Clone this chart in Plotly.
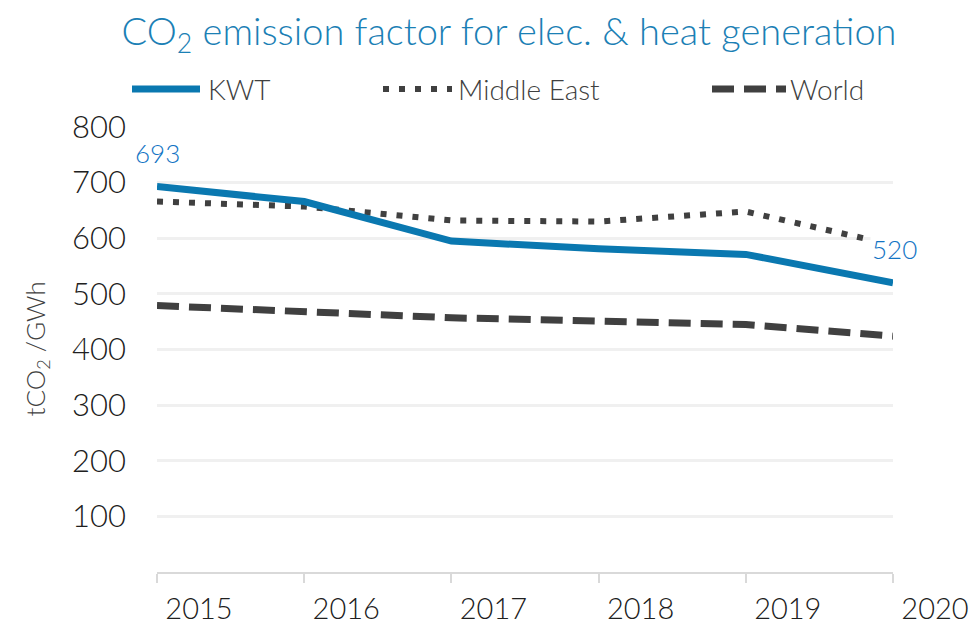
import plotly.graph_objects as go

years = [2015, 2016, 2017, 2018, 2019, 2020]
year_labels = ["2015", "2016", "2017", "2018", "2019", "2020"]
kwt = [693, 666, 595, 581, 571, 520]
middle_east = [666, 657, 632, 630, 648, 588]
world = [479, 467, 457, 451, 445, 424]
y_ticks = [100, 200, 300, 400, 500, 600, 700, 800]

FONT = "Lato"
WT = 300
BLUE = "#0a78b0"
LABEL_BLUE = "#1274c4"
DARK = "#404040"

fig = go.Figure()
fig.add_trace(go.Scatter(x=years, y=world, mode="lines", name="World",
                         line=dict(color=DARK, width=7, dash="22px,10px")))
fig.add_trace(go.Scatter(x=years, y=middle_east, mode="lines", name="Middle East",
                         line=dict(color=DARK, width=6, dash="6px,10px")))
fig.add_trace(go.Scatter(x=years, y=kwt, mode="lines", name="KWT",
                         line=dict(color=BLUE, width=7)))

W, H = 972, 622
L, R, T, B = 157, 79, 127, 50
pw, ph = W - L - R, H - T - B

def px(x):
    return (x - L) / pw

def py(y):
    return (H - B - y) / ph

shapes = []
annotations = []
# manual legend
ly = py(89)
shapes.append(dict(type="line", xref="paper", yref="paper", x0=px(132), x1=px(200), y0=ly, y1=ly,
                   line=dict(color=BLUE, width=7)))
shapes.append(dict(type="line", xref="paper", yref="paper", x0=px(383), x1=px(452), y0=ly, y1=ly,
                   line=dict(color=DARK, width=6, dash="6px,10px")))
shapes.append(dict(type="line", xref="paper", yref="paper", x0=px(712), x1=px(786), y0=ly, y1=ly,
                   line=dict(color=DARK, width=7, dash="22px,10px")))
for xx, txt in [(206, "KWT"), (456, "Middle East"), (788, "World")]:
    annotations.append(dict(xref="paper", yref="paper", x=px(xx), y=ly, text=txt,
                            showarrow=False, xanchor="left", yanchor="middle",
                            font=dict(family=FONT, size=28, color=DARK, weight=WT)))

# data labels
annotations.append(dict(x=years[0], y=kwt[0], text=str(kwt[0]), showarrow=False,
                        yshift=34, xanchor="center", yanchor="middle",
                        font=dict(family=FONT, size=26, color=LABEL_BLUE, weight=WT)))
annotations.append(dict(x=years[-1], y=kwt[-1], text=str(kwt[-1]), showarrow=False,
                        yshift=34, xshift=1, xanchor="center", yanchor="middle", bgcolor="white",
                        font=dict(family=FONT, size=26, color=LABEL_BLUE, weight=WT)))
# y title
annotations.append(dict(xref="paper", yref="paper", x=px(36), y=0.5, text="tCO<sub>2</sub> /GWh",
                        textangle=-90, showarrow=False, xanchor="center", yanchor="middle",
                        font=dict(family=FONT, size=26, color=DARK, weight=WT)))

fig.update_layout(
    width=W, height=H, autosize=False,
    margin=dict(l=L, r=R, t=T, b=B, pad=0),
    paper_bgcolor="white", plot_bgcolor="white",
    showlegend=False,
    title=dict(text="CO<sub>2</sub> emission factor for elec. & heat generation",
               x=px(509), xref="paper", xanchor="center",
               y=1 - 32 / H, yref="container", yanchor="middle",
               font=dict(family=FONT, size=38, color="#1b80b5", weight=WT)),
    shapes=shapes,
    annotations=annotations,
    xaxis=dict(range=[2015, 2020], tickvals=years, ticktext=year_labels, automargin=False,
               showgrid=False, zeroline=False, showline=True, linecolor="#d9d9d9", linewidth=2,
               ticks="outside", ticklen=9, tickcolor="#d9d9d9", tickwidth=2,
               ticklabelshift=42, ticklabelstandoff=1,
               tickfont=dict(family=FONT, size=29, color="#202020", weight=WT)),
    yaxis=dict(range=[0, 800], tickvals=y_ticks, showgrid=True, gridcolor="#f0f0f0", gridwidth=3,
               automargin=False,
               zeroline=False, showline=False, ticks="", ticklabelstandoff=30,
               tickfont=dict(family=FONT, size=31, color="#202020", weight=WT)),
)

fig.write_html("out.html",
               config={"responsive": False, "displayModeBar": False},
               post_script="document.body.style.margin='0px';document.body.style.overflow='hidden';")
